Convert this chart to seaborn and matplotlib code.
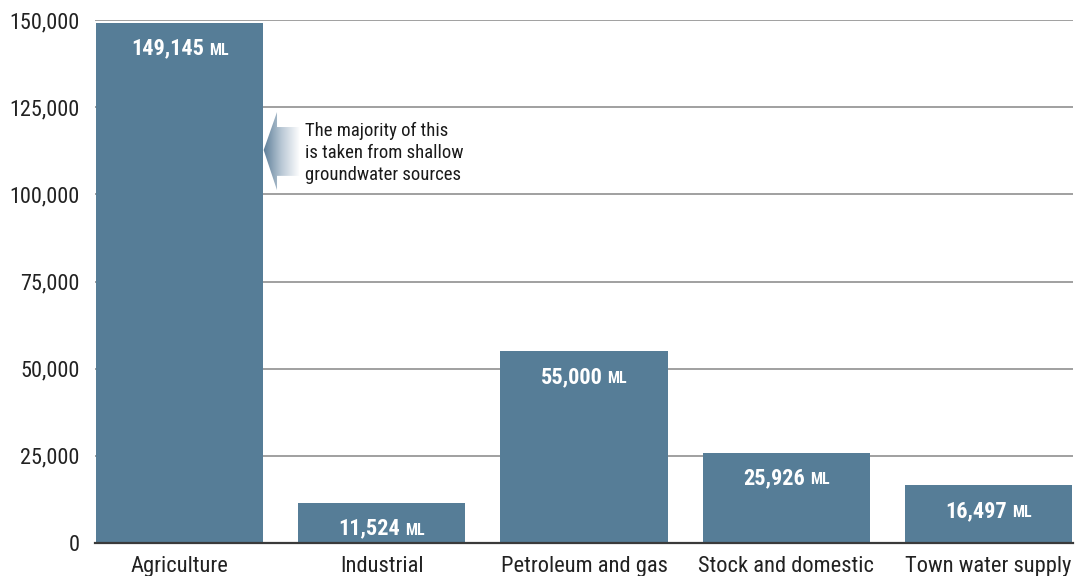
import numpy as np
import pandas as pd
import matplotlib
matplotlib.use("Agg")
import matplotlib.pyplot as plt
import seaborn as sns
from matplotlib.colors import LinearSegmentedColormap
from matplotlib.patches import Polygon
from matplotlib.offsetbox import TextArea, HPacker, AnnotationBbox

# Water use by sector (megalitres)
categories = ["Agriculture", "Industrial", "Petroleum and gas", "Stock and domestic", "Town water supply"]
values = [149145, 11524, 55000, 25926, 16497]
value_labels = ["149,145", "11,524", "55,000", "25,926", "16,497"]
unit = "ML"
yticks = [0, 25000, 50000, 75000, 100000, 125000, 150000]
note = "The majority of this\nis taken from shallow\ngroundwater sources"

BAR = "#567d97"
FONT = ["Roboto Condensed", "DejaVu Sans"]

sns.set_theme(style="white")
plt.rcParams["font.family"] = FONT

df = pd.DataFrame({"sector": categories, "ml": values})

fig = plt.figure(figsize=(10.83, 5.76), dpi=100)
ax = fig.add_axes([95 / 1083, 33 / 576, 978 / 1083, 523 / 576])

width = 0.826
sns.barplot(data=df, x="sector", y="ml", color=BAR, saturation=1,
            width=width, ax=ax, zorder=3, linewidth=0)

ax.set_xlim(-width / 2 - 0.005, len(categories) - 1 + width / 2 + 0.005)
ax.set_ylim(0, 150000)
ax.set_yticks(yticks)
ax.set_yticklabels([f"{t:,}" for t in yticks])
ax.yaxis.grid(True, color="#868686", linewidth=1.1, zorder=1)
ax.set_axisbelow(True)
ax.set_xlabel("")
ax.set_ylabel("")
for s in ["top", "right", "left"]:
    ax.spines[s].set_visible(False)
ax.spines["bottom"].set_color("#3a3a3a")
ax.spines["bottom"].set_linewidth(1.6)
ax.spines["bottom"].set_zorder(4)
ax.tick_params(axis="y", length=0, pad=11, labelsize=16, labelcolor="#222222")
ax.tick_params(axis="x", length=0, pad=9.5, labelsize=16.2, labelcolor="#222222")

# Value labels inside each bar, with a small-caps unit
for i, (v, lab) in enumerate(zip(values, value_labels)):
    num = TextArea(lab, textprops=dict(color="white", fontsize=16, fontweight="bold", family=FONT))
    un = TextArea(unit, textprops=dict(color="white", fontsize=11.5, fontweight="bold", family=FONT))
    box = HPacker(children=[num, un], align="baseline", pad=0, sep=3.5)
    ab = AnnotationBbox(box, (i, v), xybox=(0, -18.5), xycoords="data",
                        boxcoords="offset points", frameon=False,
                        box_alignment=(0.5, 0.5), zorder=5)
    ax.add_artist(ab)

# Fading arrow pointing at the Agriculture bar
edge = width / 2
tip_y = 112700
head_top, head_bot = 123600, 101200
body_top, body_bot = 119300, 105300
head_base = edge + 0.069
body_end = edge + 0.18
arrow_xy = [(edge + 0.003, tip_y), (head_base, head_top), (head_base, body_top),
            (body_end, body_top), (body_end, body_bot), (head_base, body_bot),
            (head_base, head_bot)]
poly = Polygon(arrow_xy, closed=True, facecolor="none", edgecolor="none")
ax.add_patch(poly)
cmap = LinearSegmentedColormap.from_list("fade", ["#5b7c97", "#b9c8d5", "#ffffff"])
grad = np.linspace(0, 1, 256).reshape(1, -1)
im = ax.imshow(grad, cmap=cmap, aspect="auto", interpolation="bilinear",
               extent=(edge, body_end, head_bot, head_top), zorder=4)
im.set_clip_path(poly)

ax.text(edge + 0.208, 111900, note, ha="left", va="center", fontsize=13.5,
        color="#1a1a1a", linespacing=1.29, zorder=5)

fig.savefig("out.png", dpi=100)
